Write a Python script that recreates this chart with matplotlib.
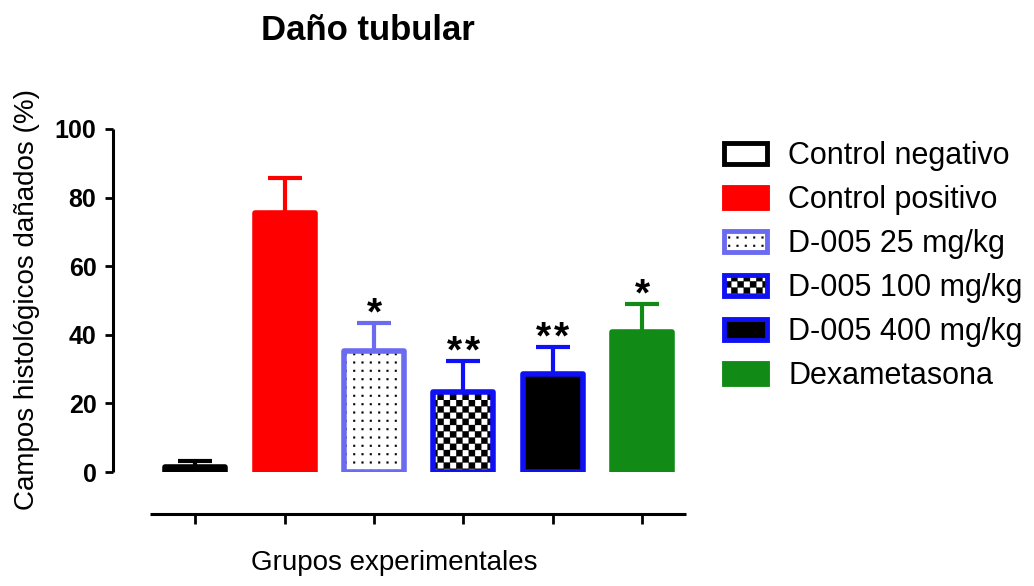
import warnings
warnings.filterwarnings("ignore")
import numpy as np
import matplotlib
matplotlib.use("Agg")
import matplotlib.pyplot as plt
from matplotlib import hatch as mhatch
from matplotlib.path import Path
from matplotlib.patches import Patch

# ---------------- data ----------------
groups = ["Control negativo", "Control positivo", "D-005 25 mg/kg",
          "D-005 100 mg/kg", "D-005 400 mg/kg", "Dexametasona"]
means = [1.5, 75.5, 35.4, 23.3, 28.6, 40.8]
sem = [1.8, 10.2, 8.1, 9.1, 7.9, 8.2]
signif = ["", "", "*", "**", "**", "*"]
yticks = [0, 20, 40, 60, 80, 100]

title = "Daño tubular"
ylabel = "Campos histológicos dañados (%)"
xlabel = "Grupos experimentales"

# ---------------- styles ----------------
edgecolors = ["#000000", "#ff0000", "#6b6bf2", "#1010f5", "#1010f5", "#118a16"]
facecolors = ["#ffffff", "#ff0000", "#ffffff", "#ffffff", "#000000", "#118a16"]
hatches = [None, None, "d", "c", None, None]


# custom hatches: checkerboard ('c') and regular dot grid ('d')
class _CheckerHatch(mhatch.HatchPatternBase):
    def __init__(self, hatch, density):
        self.n = 16 if "c" in hatch else 0
        self.num_vertices = (self.n * self.n // 2) * 5

    def set_vertices_and_codes(self, vertices, codes):
        s = 1.0 / self.n
        v, c = [], []
        for i in range(self.n):
            for j in range(self.n):
                if (i + j) % 2 == 0:
                    x0, y0 = j * s, i * s
                    v += [(x0, y0), (x0 + s, y0), (x0 + s, y0 + s), (x0, y0 + s), (x0, y0)]
                    c += [Path.MOVETO, Path.LINETO, Path.LINETO, Path.LINETO, Path.CLOSEPOLY]
        vertices[:] = v
        codes[:] = c


class _DotGridHatch(mhatch.HatchPatternBase):
    def __init__(self, hatch, density):
        self.n = 12 if "d" in hatch else 0
        self.num_vertices = self.n * self.n * 5

    def set_vertices_and_codes(self, vertices, codes):
        s = 1.0 / self.n
        r = 0.009
        v, c = [], []
        for i in range(self.n):
            for j in range(self.n):
                cx, cy = (j + 0.5) * s, (i + 0.5) * s
                v += [(cx - r, cy - r), (cx + r, cy - r), (cx + r, cy + r), (cx - r, cy + r), (cx - r, cy - r)]
                c += [Path.MOVETO, Path.LINETO, Path.LINETO, Path.LINETO, Path.CLOSEPOLY]
        vertices[:] = v
        codes[:] = c


mhatch._hatch_types.extend([_CheckerHatch, _DotGridHatch])

plt.rcParams["font.family"] = ["Liberation Sans", "DejaVu Sans"]
plt.rcParams["hatch.linewidth"] = 0.2

W, H = 1034, 586
fig = plt.figure(figsize=(W / 100, H / 100), dpi=100)
ax = fig.add_axes([150 / W, 1 - 472 / H, (686 - 150) / W, (472 - 129) / H])

x = np.arange(len(groups))
bars = ax.bar(x, means, width=0.67, color=facecolors, edgecolor=edgecolors,
              linewidth=4, zorder=2)
for p, h in zip(bars, hatches):
    p.set_joinstyle("round")
    if h:
        p.set_hatch(h)
        p._hatch_color = (0, 0, 0, 1)

for i in range(len(groups)):
    ax.errorbar(x[i], means[i], yerr=[[0], [sem[i]]], fmt="none",
                ecolor=edgecolors[i], elinewidth=3, capsize=12.5, capthick=3,
                zorder=1)
    n = len(signif[i])
    for k in range(n):
        ax.annotate("*", (x[i], means[i] + sem[i]),
                    xytext=((k - (n - 1) / 2) * 13, -1),
                    textcoords="offset points", ha="center", va="baseline",
                    fontsize=28, fontweight="bold", color="black")

ax.set_ylim(0, 100)
ax.set_xlim(-0.506, 5.49)
ax.set_yticks(yticks)
ax.set_yticklabels([str(t) for t in yticks])
ax.set_xticks(x)
ax.set_xticklabels([""] * len(groups))

for side in ("top", "right"):
    ax.spines[side].set_visible(False)
ax.spines["left"].set_position(("outward", 26.6))
ax.spines["left"].set_bounds(0, 100)
ax.spines["bottom"].set_position(("outward", 30.2))
for side in ("left", "bottom"):
    ax.spines[side].set_linewidth(2.2)
    ax.spines[side].set_capstyle("butt")
ax.tick_params(axis="y", length=6, width=2, pad=6, labelsize=18)
ax.tick_params(axis="x", length=7, width=2)
for lbl in ax.get_yticklabels():
    lbl.set_fontweight("bold")
ax.patch.set_visible(False)

# legend
handles = []
for lab, fc, ec, h in zip(groups, facecolors, edgecolors, hatches):
    hp = Patch(facecolor=fc, edgecolor=ec, linewidth=3.5, hatch=h, label=lab,
               joinstyle="round")
    if h:
        hp._hatch_color = (0, 0, 0, 1)
    handles.append(hp)
fig.legend(handles=handles, loc="upper left", bbox_to_anchor=(724 / W, 1 - 141 / H),
           frameon=False, fontsize=22, handlelength=1.4, handleheight=0.68,
           handletextpad=0.7, labelspacing=0.46, borderpad=0, borderaxespad=0)

fig.text(368 / W, 1 - 30 / H, title, ha="center", va="center", fontsize=25,
         fontweight="bold")
fig.text(27 / W, 1 - 300 / H, ylabel, ha="center", va="center", rotation=90,
         fontsize=20)
fig.text(394 / W, 1 - 563 / H, xlabel, ha="center", va="center", fontsize=20)

fig.savefig("out.png", dpi=100, facecolor="white")
